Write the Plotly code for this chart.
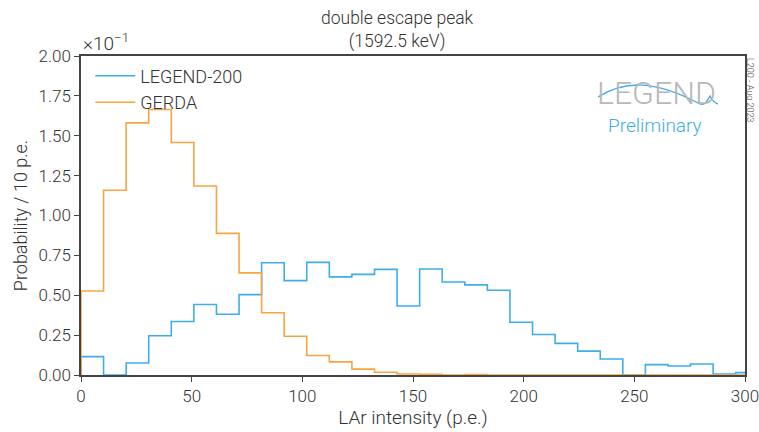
import numpy as np
import plotly.graph_objects as go

# ---- data (display units: x10^-1 probability per bin) ----
bin_width = 10.2
n_bins = 30
legend200 = [0.115, 0.0, 0.075, 0.246, 0.335, 0.442, 0.381, 0.504, 0.704, 0.592,
             0.706, 0.615, 0.631, 0.662, 0.433, 0.665, 0.583, 0.565, 0.531, 0.331,
             0.254, 0.198, 0.150, 0.100, 0.0, 0.065, 0.056, 0.069, 0.006, 0.015]
gerda = [0.527, 1.158, 1.581, 1.665, 1.458, 1.185, 0.888, 0.640, 0.390, 0.243,
         0.122, 0.082, 0.037, 0.017, 0.006, 0.005, 0.0, 0.003, 0.0, 0.0,
         0.0, 0.0, 0.0, 0.0, 0.0, 0.0, 0.0, 0.0, 0.0, 0.0]
x_ticks = [0, 50, 100, 150, 200, 250, 300]
y_ticks = [0.0, 0.25, 0.5, 0.75, 1.0, 1.25, 1.5, 1.75, 2.0]

edges = np.arange(n_bins + 1) * bin_width

def step_xy(vals):
    xs = [edges[0]] + list(edges) + [edges[-1]]
    ys = [0.0] + list(vals) + [vals[-1], 0.0]
    return xs, ys

BLUE = "#3daee9"
ORANGE = "#f6a540"
FONT = "Roboto"
TXT = "#333333"

fig = go.Figure()
for name, vals, col in [("LEGEND-200", legend200, BLUE), ("GERDA", gerda, ORANGE)]:
    xs, ys = step_xy(vals)
    fig.add_trace(go.Scatter(x=xs, y=ys, mode="lines", name=name,
                             line=dict(color=col, width=1.6, shape="hv")))

L, R, T, B = 81, 745, 56, 375
W, H = 759, 432
def px(x):
    return (x - L) / (R - L)
def py(y):
    return (B - y) / (B - T)

fig.update_layout(
    width=W, height=H,
    margin=dict(l=L, r=W - R, t=T, b=H - B, autoexpand=False),
    paper_bgcolor="white", plot_bgcolor="white",
    font=dict(family=FONT, size=17, color=TXT, weight=300),
    showlegend=True,
    legend=dict(x=0.014, y=0.995, xanchor="left", yanchor="top",
                bgcolor="rgba(0,0,0,0)", font=dict(size=18, weight=300),
                tracegroupgap=0, itemwidth=40),
    xaxis=dict(range=[0, 300], tickvals=x_ticks, ticks="outside", ticklen=5,
               tickcolor="#444", showline=True, linecolor="#444", linewidth=1.5,
               mirror=True, showgrid=False, zeroline=False, automargin=False,
               ticklabeloverflow="allow",
               title=dict(text="LAr intensity (p.e.)", font=dict(size=19, weight=300), standoff=3),
               tickfont=dict(size=17, weight=300)),
    yaxis=dict(range=[0, 2.0], tickvals=y_ticks, tickformat=".2f", ticks="outside",
               ticklen=5, tickcolor="#444", showline=True, linecolor="#444",
               linewidth=1.5, mirror=True, showgrid=False, zeroline=False, automargin=False,
               title=dict(text="Probability / 10 p.e.", font=dict(size=18, weight=300), standoff=6),
               tickfont=dict(size=17, weight=300)),
)

ann = []
ann.append(dict(text="double escape peak<br>(1592.5 keV)", x=px(397), y=py(30),
                xanchor="center", yanchor="middle",
                xref="paper", yref="paper", showarrow=False,
                font=dict(size=17.5, weight=300, color=TXT)))
ann.append(dict(text="×10<sup>−1</sup>", x=px(81), y=py(43), xref="paper", yref="paper",
                xanchor="left", yanchor="middle", showarrow=False,
                font=dict(size=19, weight=300, color=TXT)))
ann.append(dict(text="L200 - Aug 2023", x=px(750), y=py(90), xref="paper", yref="paper",
                xanchor="center", yanchor="middle",
                textangle=90, showarrow=False, font=dict(size=9, color="#444")))
ann.append(dict(text="LEGEND", x=px(656), y=py(93), xref="paper", yref="paper",
                xanchor="center", yanchor="middle",
                showarrow=False, font=dict(size=32, weight=300, color="#b8b8b8")))
ann.append(dict(text="Preliminary", x=px(655), y=py(125), xref="paper", yref="paper",
                xanchor="center", yanchor="middle",
                showarrow=False, font=dict(size=19, color=BLUE)))
fig.update_layout(annotations=ann)

wave = (f"M {px(598)} {py(97)} C {px(625)} {py(80)}, {px(655)} {py(80)}, {px(700)} {py(104)} "
        f"C {px(705)} {py(106)}, {px(708)} {py(100)}, {px(710)} {py(96)} "
        f"C {px(712)} {py(100)}, {px(714)} {py(103)}, {px(718)} {py(104)}")
fig.add_shape(type="path", path=wave, xref="paper", yref="paper",
              line=dict(color=BLUE, width=1.3))

fig.write_html("out.html")
